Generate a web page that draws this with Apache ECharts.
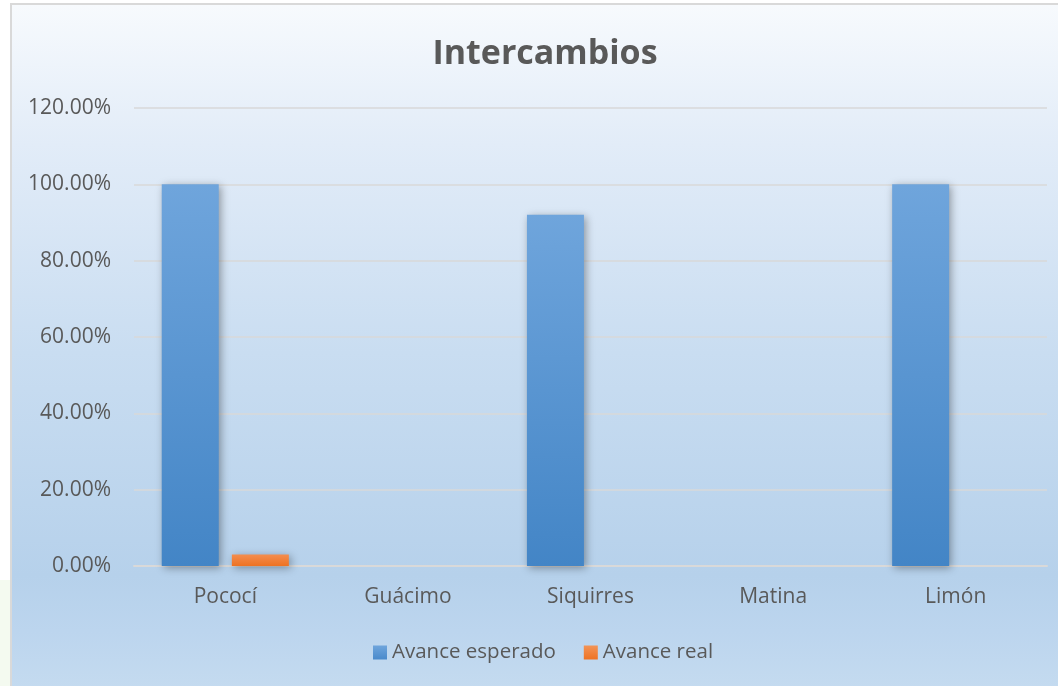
<!DOCTYPE html>
<html>
<head>
<meta charset="utf-8">
<script src="https://cdn.jsdelivr.net/npm/echarts@6/dist/echarts.min.js"></script>
<style>
    html, body { margin: 0; padding: 0; background: #ffffff; }
    .side-tint {
        position: absolute; left: 0; top: 580px; width: 12px; height: 106px;
        background: #f4faf0;
    }
    .frame {
        position: absolute; left: 10px; top: 3px; width: 1060px; height: 700px;
        border: 2px solid #d9d9d9; box-sizing: border-box;
        background: linear-gradient(to bottom, #f7fafd 0%, #e2ecf8 20%, #c9ddf1 50%, #b6d1eb 82%, #bcd5ee 90%, #c6dcf0 100%);
    }
    #chart { position: absolute; left: 0; top: 0; width: 1058px; height: 686px; }
</style>
</head>
<body>
<div class="side-tint"></div>
<div class="frame"></div>
<div id="chart"></div>
<script>
// 数据
const categories = ['Pococí', 'Guácimo', 'Siquirres', 'Matina', 'Limón']
const avanceEsperado = [100, 0, 92, 0, 100]
const avanceReal = [3, 0, 0, 0, 0]
const yTicks = [0, 20, 40, 60, 80, 100, 120]

const textColor = '#595959'
const fontFamily = '"Open Sans", "Noto Sans", sans-serif'

function grad(top, bottom) {
    return new echarts.graphic.LinearGradient(0, 0, 0, 1, [
        { offset: 0, color: top },
        { offset: 1, color: bottom }
    ])
}

const chart = echarts.init(document.getElementById('chart'))

const shadow = {
    shadowBlur: 8,
    shadowColor: 'rgba(0,0,0,0.35)',
    shadowOffsetX: 2,
    shadowOffsetY: 2
}

chart.setOption({
    backgroundColor: 'transparent',
    animation: false,
    title: {
        text: 'Intercambios',
        left: 540,
        top: 32,
        textAlign: 'center',
        textStyle: { color: textColor, fontSize: 34, fontWeight: 'bold', fontFamily }
    },
    legend: {
        left: 368,
        top: 637,
        itemWidth: 14,
        itemHeight: 14,
        itemGap: 28,
        textStyle: { color: textColor, fontSize: 20.5, fontFamily },
        data: [
            { name: 'Avance esperado', icon: 'rect', itemStyle: { color: grad('#6fa5dc', '#4a8acb'), shadowBlur: 0 } },
            { name: 'Avance real', icon: 'rect', itemStyle: { color: grad('#f39457', '#ee7223'), shadowBlur: 0 } }
        ]
    },
    grid: { left: 134, right: 11, top: 108, bottom: 120, containLabel: false },
    xAxis: {
        type: 'category',
        data: categories,
        axisLine: { lineStyle: { color: '#d9d9d9', width: 2 } },
        axisTick: { show: false },
        axisLabel: { color: textColor, fontSize: 21, fontFamily, margin: 21 }
    },
    yAxis: {
        type: 'value',
        min: yTicks[0],
        max: yTicks[yTicks.length - 1],
        interval: 20,
        axisLine: { show: false },
        axisTick: { show: false },
        axisLabel: {
            color: textColor, fontSize: 21, fontFamily, margin: 23,
            formatter: v => v.toFixed(2) + '%'
        },
        splitLine: { lineStyle: { color: '#d9d9d9', width: 1.5 } }
    },
    series: [
        {
            name: 'Avance esperado',
            type: 'bar',
            barWidth: 57,
            barGap: '23%',
            itemStyle: Object.assign({ color: grad('#6fa5dc', '#4385c6') }, shadow),
            data: avanceEsperado
        },
        {
            name: 'Avance real',
            type: 'bar',
            barWidth: 57,
            itemStyle: Object.assign({ color: grad('#f38d4e', '#ee7222') }, shadow),
            data: avanceReal
        }
    ]
})
</script>
</body>
</html>
